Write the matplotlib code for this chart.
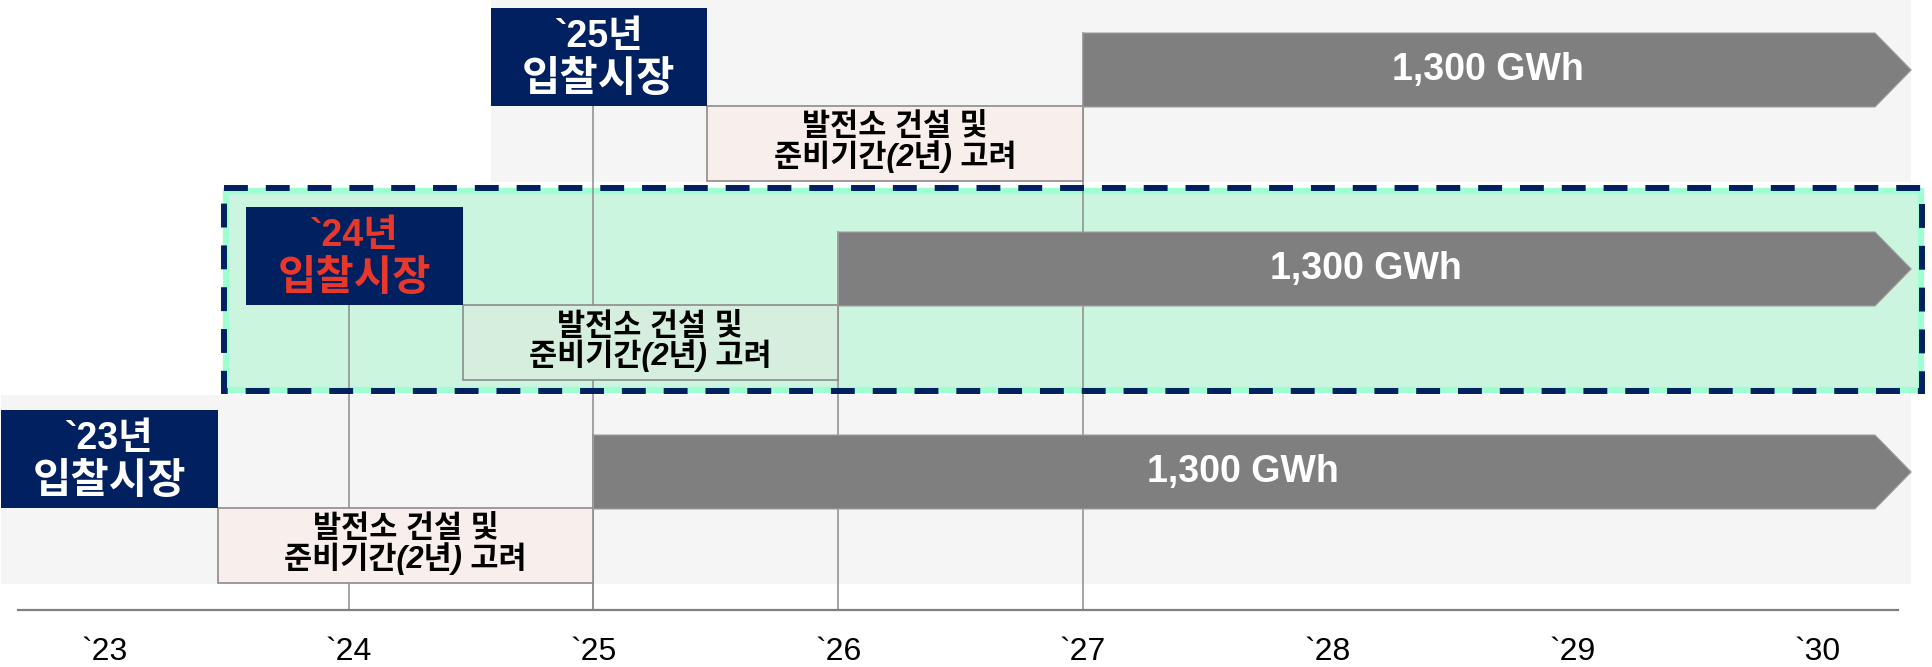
import matplotlib
matplotlib.use('Agg')
import matplotlib.pyplot as plt
from matplotlib.patches import Rectangle, Polygon

plt.rcParams['font.family'] = ['Liberation Sans', 'Noto Sans CJK KR', 'DejaVu Sans']

# 데이터
bid_years = [2023, 2024, 2025]
lead_years = [2, 2, 2]
volumes = [1300, 1300, 1300]
highlight_year = 2024
axis_years = [2023, 2024, 2025, 2026, 2027, 2028, 2029, 2030]
axis_labels = ['`23', '`24', '`25', '`26', '`27', '`28', '`29', '`30']
bid_label = '입찰시장'
lead_text = ['발전소 건설 및', '준비기간(2년) 고려']
end_year = 2030.385

# 레이아웃 (픽셀, 위에서 아래로)
row_top = {2023: 410, 2024: 207, 2025: 8}
bid_h = 98
pink_h = 75
arrow_t, arrow_b = 25, 99
box_l, box_r = 0.42, 0.465
axis_y = 610

navy = '#002060'
gray_arrow = '#7f7f7f'
line_gray = '#8c8c8c'

fig = plt.figure(figsize=(19.33, 6.67), dpi=100)
ax = fig.add_axes([0, 0, 1, 1])
ax.set_xlim(2022.575, 2030.474)
ax.set_ylim(667, 0)
ax.axis('off')

for yr, lead, vol in zip(bid_years, lead_years, volumes):
    top = row_top[yr]
    start = yr + lead
    x_left = yr - box_l
    x_right = yr + box_r
    hl = yr == highlight_year

    if hl:
        # 강조 영역
        ax.add_patch(Rectangle((yr - 0.5, top - 16), end_year + 0.04 - (yr - 0.5), 199,
                               facecolor='#ccf5e0', edgecolor='#9effd0', lw=4.5, zorder=1))
        ax.add_patch(Rectangle((yr - 0.51, top - 19), end_year + 0.045 - (yr - 0.51), 203,
                               facecolor='none', edgecolor=navy, lw=4.3,
                               linestyle=(0, (4, 3)), zorder=6))
    else:
        ax.add_patch(Rectangle((x_left, top - 15), end_year - x_left, 15 + bid_h + pink_h + 1,
                               facecolor='#f5f5f5', edgecolor='none', zorder=0))

    # 가이드 라인
    ax.plot([start, start], [top + arrow_t, axis_y], color=line_gray, lw=1.1, zorder=2)
    if yr != bid_years[0]:
        ax.plot([yr, yr], [top + bid_h, axis_y], color=line_gray, lw=1.1, zorder=2)

    # 입찰 박스
    ax.add_patch(Rectangle((x_left, top), box_l + box_r, bid_h, facecolor=navy,
                           edgecolor='none', zorder=4))
    tcol = '#e8382b' if hl else 'white'
    bx = (x_left + x_right) / 2
    ax.text(bx, top + bid_h / 2 - 20, f'`{yr % 100}년', color=tcol, fontsize=27,
            fontweight='bold', ha='center', va='center', zorder=5)
    ax.text(bx, top + bid_h / 2 + 23, bid_label, color=tcol, fontsize=30,
            fontweight='bold', ha='center', va='center', zorder=5)

    # 건설 및 준비기간 박스
    pink = '#d6eedd' if hl else '#f8eeec'
    ax.add_patch(Rectangle((x_right, top + bid_h), start - x_right, pink_h,
                           facecolor=pink, edgecolor=line_gray, lw=1.2, zorder=3))
    cx = (x_right + start) / 2
    cy = top + bid_h + pink_h / 2
    ax.text(cx, cy - 16, lead_text[0], fontsize=22, style='italic', fontweight='bold',
            ha='center', va='center', color='black', zorder=5)
    ax.text(cx, cy + 13, lead_text[1], fontsize=22, style='italic', fontweight='bold',
            ha='center', va='center', color='black', zorder=5)

    # 공급 화살표
    body_end = end_year - 0.148
    y0, y1 = top + arrow_t, top + arrow_b
    ax.add_patch(Polygon([(start, y0), (body_end, y0), (end_year, (y0 + y1) / 2),
                          (body_end, y1), (start, y1)], closed=True,
                         facecolor=gray_arrow, edgecolor='#a0a0a0', lw=0.8, zorder=3))
    tx = (start + (body_end + end_year) / 2) / 2
    ax.text(tx, (y0 + y1) / 2, f'{vol:,} GWh', color='white',
            fontsize=27, fontweight='bold', ha='center', va='center', zorder=5)

# 축
ax.plot([2022.65, 2030.33], [axis_y, axis_y], color='#808080', lw=1.6, zorder=2)
for yv, lab in zip(axis_years, axis_labels):
    ax.text(yv, 652, lab, fontsize=23, ha='center', va='center', color='black')

fig.savefig('out.png', dpi=100)
